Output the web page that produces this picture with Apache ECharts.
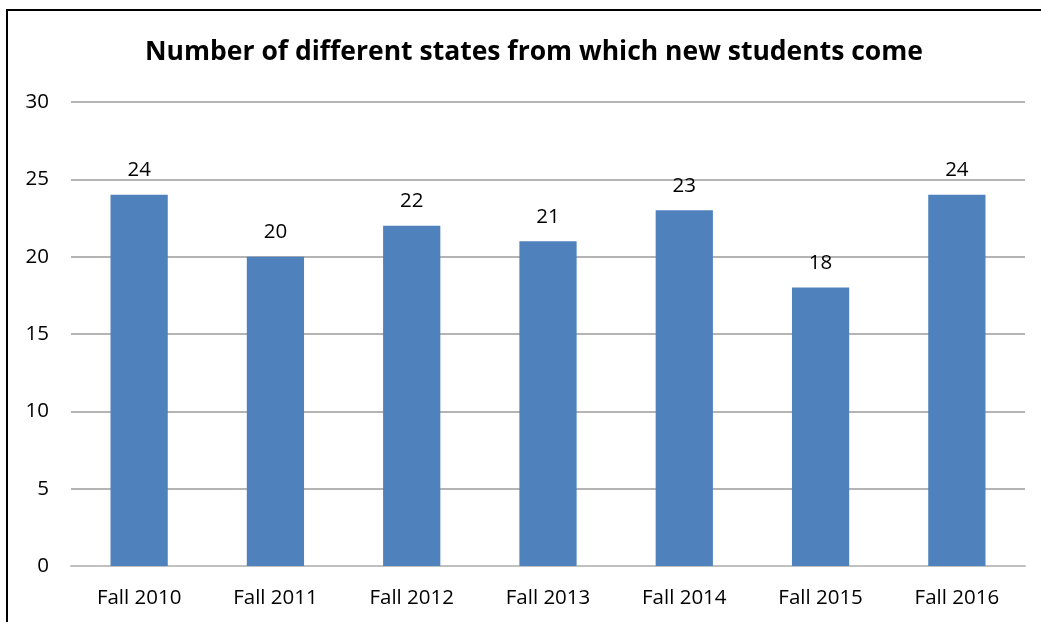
<!DOCTYPE html>
<html><head><meta charset="utf-8">
<script src="https://cdn.jsdelivr.net/npm/echarts@6/dist/echarts.min.js"></script>
<style>html,body{margin:0;padding:0;background:#fff}#c{width:1041px;height:622px}</style>
</head><body><div id="c"></div>
<script>
const categories = ['Fall 2010','Fall 2011','Fall 2012','Fall 2013','Fall 2014','Fall 2015','Fall 2016'];
const values = [24,20,22,21,23,18,24];
const titleText = 'Number of different states from which new students come';
const chart = echarts.init(document.getElementById('c'));
const font = '"Open Sans", "Noto Sans", sans-serif';
chart.setOption({
  animation:false,
  title:{text:titleText,left:529,top:34,textAlign:'center',textStyle:{fontFamily:font,fontSize:26.5,fontWeight:'bold',color:'#000'}},
  graphic:[{type:'rect',shape:{x:7,y:10,width:1060,height:640},style:{fill:'none',stroke:'#000',lineWidth:2}}],
  grid:{left:71,right:16,top:102,bottom:56},
  xAxis:{type:'category',data:categories,axisTick:{show:false},axisLine:{lineStyle:{color:'#c0c0c0',width:2}},
    axisLabel:{fontFamily:font,fontSize:20.5,color:'#000',margin:22}},
  yAxis:{type:'value',min:0,max:30,interval:5,axisLine:{show:false},axisTick:{show:false},
    axisLabel:{fontFamily:font,fontSize:20.5,color:'#000',margin:22},
    splitLine:{lineStyle:{color:'#b4b4b4',width:2}}},
  series:[{type:'bar',data:values,barWidth:'42%',itemStyle:{color:'#4f81bd'},
    label:{show:true,position:'top',distance:14,fontFamily:font,fontSize:20.5,color:'#000'}}]
});
</script></body></html>
